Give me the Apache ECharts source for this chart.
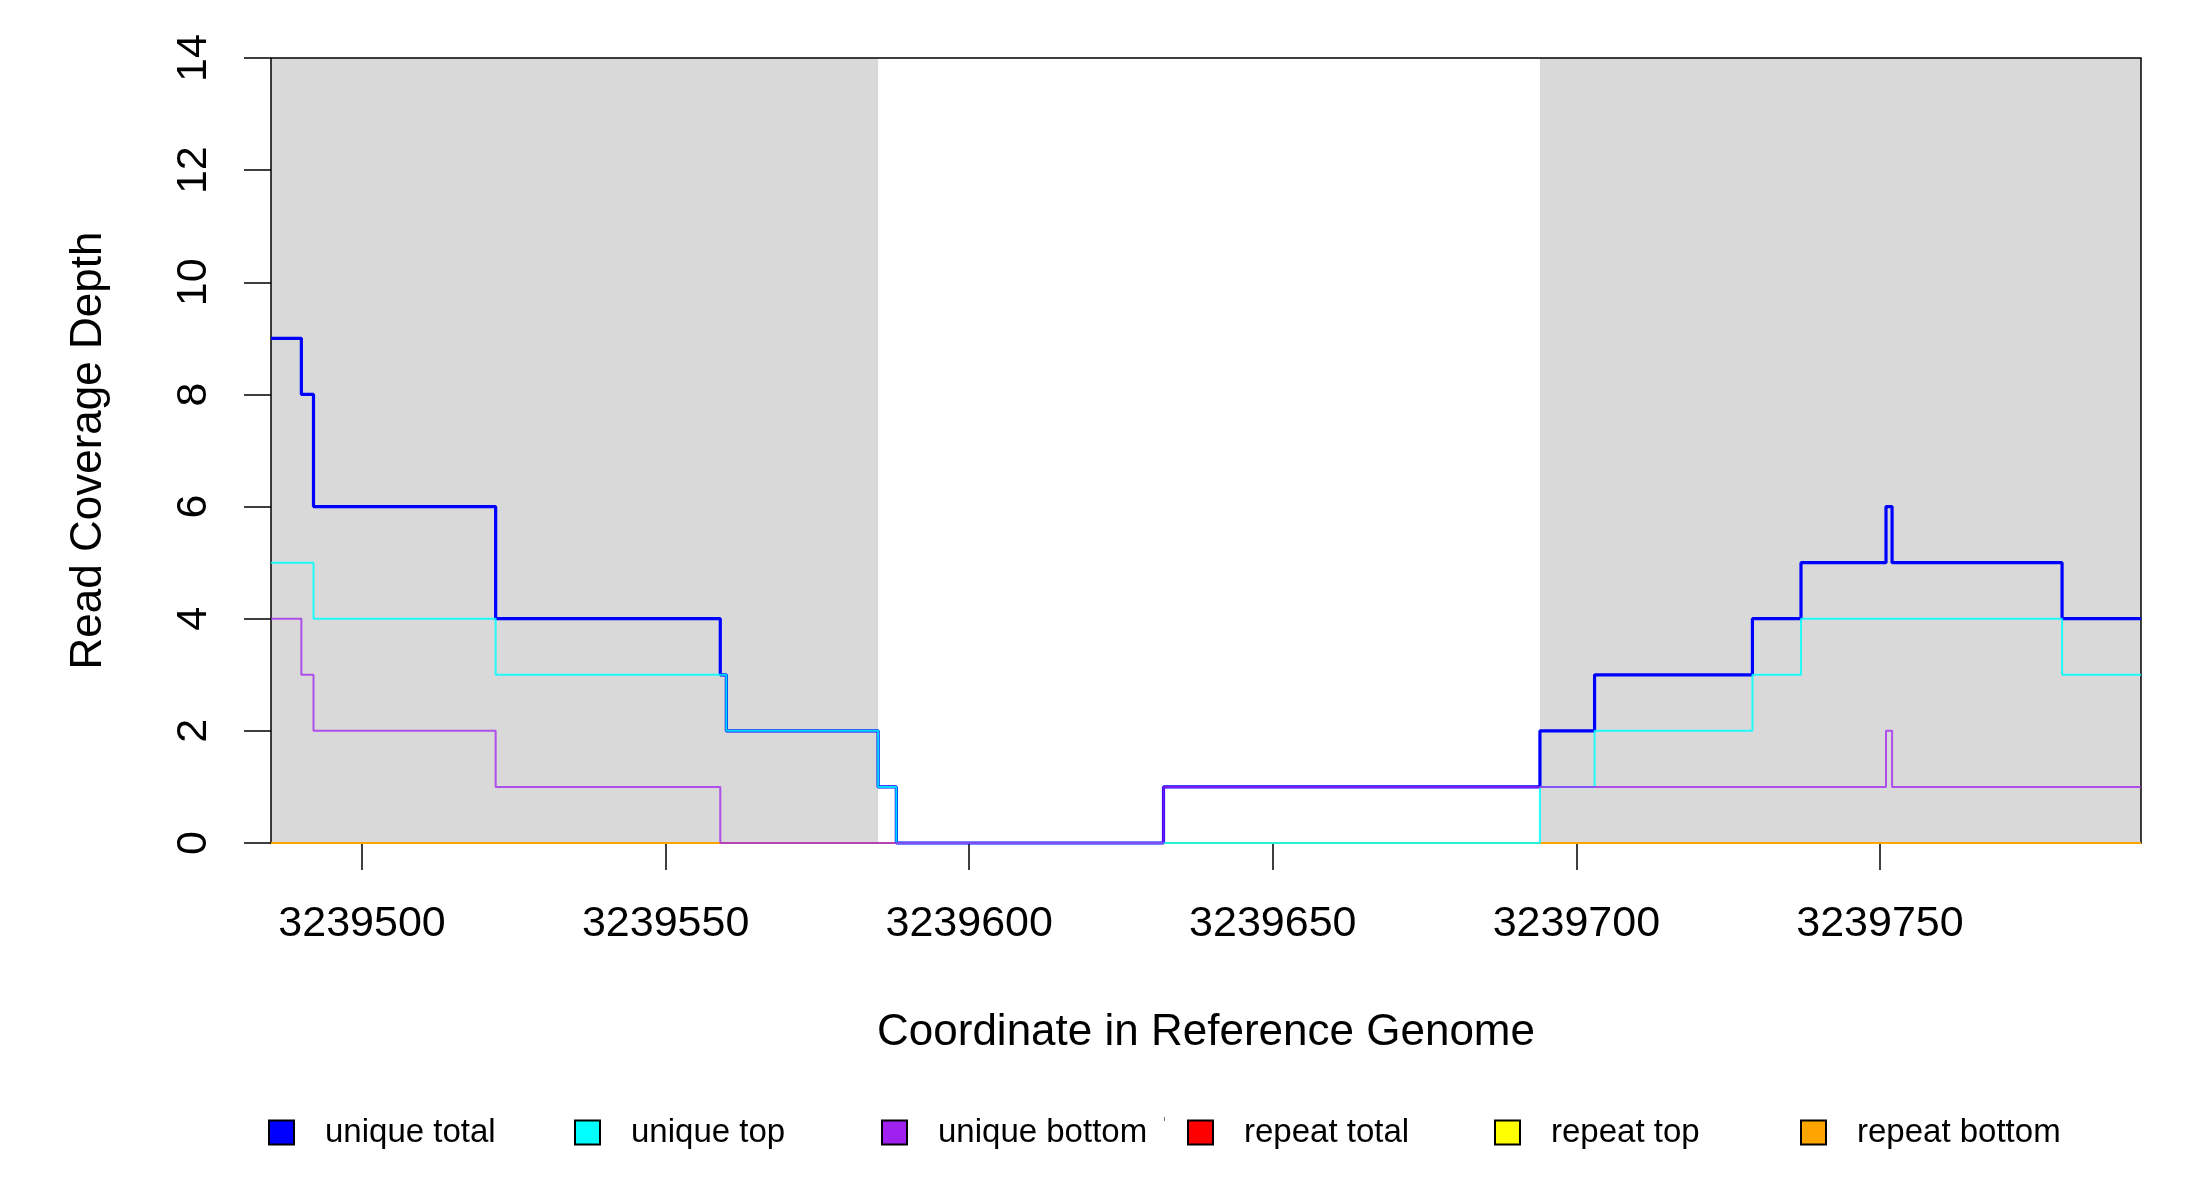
<!DOCTYPE html>
<html>
<head>
<meta charset="utf-8">
<title>Read Coverage Depth</title>
<script src="https://cdn.jsdelivr.net/npm/echarts@6/dist/echarts.min.js"></script>
<style>
html, body { margin: 0; padding: 0; background: #fff; }
#main { width: 2200px; height: 1200px; }
</style>
</head>
<body>
<div id="main"></div>
<script>
// coverage steps: value holds from x[i] until x[i+1]
var uniqueTotalX = [3239485, 3239490, 3239492, 3239522, 3239559, 3239560, 3239585, 3239588, 3239632, 3239694, 3239703, 3239729, 3239737, 3239751, 3239752, 3239780, 3239793];
var uniqueTotalY = [9, 8, 6, 4, 3, 2, 1, 0, 1, 2, 3, 4, 5, 6, 5, 4, 4];

var uniqueTopX = [3239485, 3239492, 3239522, 3239560, 3239585, 3239588, 3239694, 3239703, 3239729, 3239737, 3239780, 3239793];
var uniqueTopY = [5, 4, 3, 2, 1, 0, 1, 2, 3, 4, 3, 3];

var uniqueBottomX = [3239485, 3239490, 3239492, 3239522, 3239559, 3239632, 3239751, 3239752, 3239793];
var uniqueBottomY = [4, 3, 2, 1, 0, 1, 2, 1, 1];

var repeatX = [3239485, 3239793];
var repeatTotalY = [0, 0];
var repeatTopY = [0, 0];
var repeatBottomY = [0, 0];

// shaded regions
var shadeStart = [3239485, 3239694];
var shadeEnd = [3239585, 3239793];

var xMin = 3239485, xMax = 3239793;
var xTicks = [3239500, 3239550, 3239600, 3239650, 3239700, 3239750];

var seriesNames = ['unique total', 'unique top', 'unique bottom', 'repeat total', 'repeat top', 'repeat bottom'];
var seriesColors = ['#0000ff', '#00ffff', '#a020f0', '#ff0000', '#ffff00', '#ffa500'];

var FONT = '"Liberation Sans", Arial, sans-serif';

function pairs(xs, ys) {
    var out = [];
    for (var i = 0; i < xs.length; i++) out.push([xs[i], ys[i]]);
    return out;
}

function stepSeries(name, color, xs, ys, width, opacity, z) {
    return {
        name: name
        ,type: 'line'
        ,step: 'end'
        ,z: z
        ,color: color
        ,showSymbol: false
        ,symbol: 'none'
        ,clip: false
        ,lineStyle: { color: color, width: width, opacity: opacity }
        ,data: pairs(xs, ys)
    };
}

var shadeAreas = [];
for (var i = 0; i < shadeStart.length; i++) {
    shadeAreas.push([{ xAxis: shadeStart[i] }, { xAxis: shadeEnd[i] }]);
}

// repeat lines drawn first, unique lines over them, all above the frame
var series = [
    stepSeries(seriesNames[3], seriesColors[3], repeatX, repeatTotalY, 2, 1, 11)
    ,stepSeries(seriesNames[4], seriesColors[4], repeatX, repeatTopY, 2, 1, 11)
    ,stepSeries(seriesNames[5], seriesColors[5], repeatX, repeatBottomY, 2, 1, 11)
    ,stepSeries(seriesNames[0], seriesColors[0], uniqueTotalX, uniqueTotalY, 3.2, 1, 12)
    ,stepSeries(seriesNames[1], seriesColors[1], uniqueTopX, uniqueTopY, 2, 0.85, 12)
    ,stepSeries(seriesNames[2], seriesColors[2], uniqueBottomX, uniqueBottomY, 2, 0.75, 12)
];
series[0].markArea = {
    silent: true
    ,z: 1
    ,itemStyle: { color: '#d9d9d9' }
    ,label: { show: false }
    ,data: shadeAreas
};

// one legend per entry so the spacing is even
var legendLeft = [268, 574, 881, 1187, 1494, 1800];
var legends = [];
for (var k = 0; k < seriesNames.length; k++) {
    legends.push({
        data: [seriesNames[k]]
        ,left: legendLeft[k]
        ,top: 1116
        ,padding: 0
        ,icon: 'rect'
        ,itemWidth: 25
        ,itemHeight: 24
        ,selectedMode: false
        ,itemStyle: { borderColor: '#000', borderWidth: 2 }
        ,textStyle: { fontFamily: FONT, fontSize: 33, color: '#000', padding: [0, 0, 0, 26] }
    });
}

var chart = echarts.init(document.getElementById('main'));
chart.setOption({
    animation: false
    ,backgroundColor: '#fff'
    ,grid: {
        left: 271, top: 58, right: 59, bottom: 357
        ,show: true
        ,backgroundColor: 'transparent'
        ,borderColor: '#000'
        ,borderWidth: 1.5
        ,z: 10
    }
    ,legend: legends
    ,xAxis: {
        type: 'value'
        ,min: xMin
        ,max: xMax
        ,name: 'Coordinate in Reference Genome'
        ,nameLocation: 'middle'
        ,nameGap: 168
        ,nameTextStyle: { fontFamily: FONT, fontSize: 44, color: '#000' }
        ,axisLine: { show: false }
        ,splitLine: { show: false }
        ,axisTick: {
            show: true, inside: false, length: 27
            ,customValues: xTicks
            ,lineStyle: { color: '#000', width: 1.5 }
        }
        ,axisLabel: {
            customValues: xTicks
            ,margin: 60
            ,fontFamily: FONT, fontSize: 43, color: '#000'
            ,formatter: function (v) { return String(v); }
        }
    }
    ,yAxis: {
        type: 'value'
        ,min: 0
        ,max: 14
        ,interval: 2
        ,name: 'Read Coverage Depth'
        ,nameLocation: 'middle'
        ,nameGap: 160
        ,nameTextStyle: { fontFamily: FONT, fontSize: 44, color: '#000' }
        ,axisLine: { show: false }
        ,splitLine: { show: false }
        ,axisTick: {
            show: true, inside: false, length: 27
            ,lineStyle: { color: '#000', width: 1.5 }
        }
        ,axisLabel: {
            rotate: 90
            ,margin: 55
            ,fontFamily: FONT, fontSize: 43, color: '#000'
        }
    }
    ,graphic: [{
        type: 'rect'
        ,left: 1164, top: 1117
        ,shape: { width: 1, height: 4 }
        ,style: { fill: '#777' }
    }]
    ,series: series
});
</script>
</body>
</html>
